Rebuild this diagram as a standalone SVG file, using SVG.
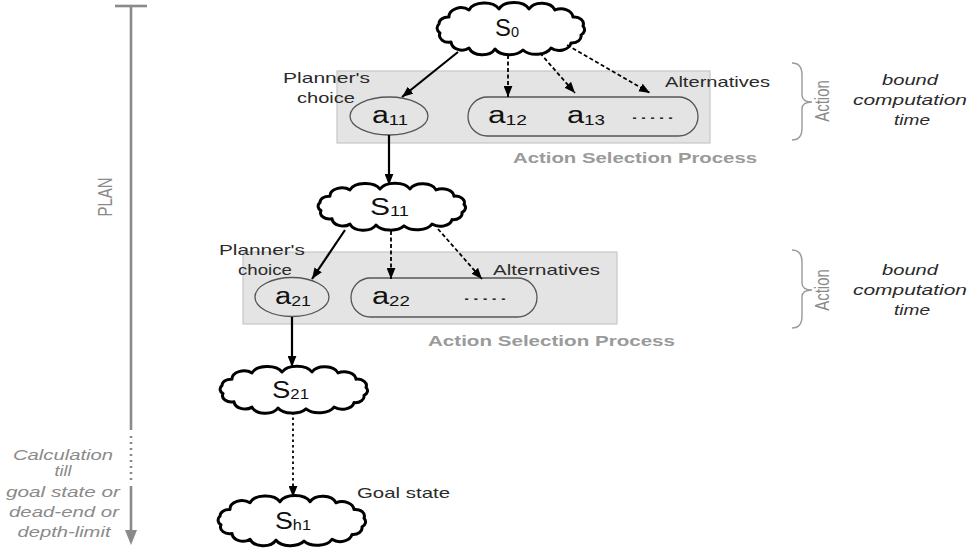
<svg xmlns="http://www.w3.org/2000/svg" width="970" height="548" viewBox="0 0 970 548">
  <style>
    text { font-family: "Liberation Sans", Arial, sans-serif; }
    .lbl { font-size: 15px; fill: #2a2a2a; }
    .proc { font-size: 15px; font-weight: bold; fill: #9a9a9a; }
    .note { font-size: 15px; font-style: italic; fill: #2a2a2a; }
    .side { font-size: 14px; font-style: italic; fill: #8a8a8a; }
    .axis { font-size: 15px; fill: #8a8a8a; }
    .state { font-size: 23px; fill: #111; }
    .act { font-size: 23px; fill: #111; }
    .sub { font-size: 14px; }
    .box { fill: #e4e4e4; stroke: #c6c6c6; stroke-width: 1.2; }
    .choice { fill: none; stroke: #555; stroke-width: 1.3; }
    .cloud { fill: #fff; stroke: #000; stroke-width: 3; stroke-linejoin: round; }
    .solid { stroke: #000; stroke-width: 2.2; fill: none; }
    .dash { stroke: #000; stroke-width: 1.8; fill: none; stroke-dasharray: 4 2.5; }
    .dot { stroke: #000; stroke-width: 1.8; fill: none; stroke-dasharray: 2.5 3; }
    .brace { stroke: #9a9a9a; stroke-width: 1.4; fill: none; }
    .timeline { stroke: #8a8a8a; stroke-width: 2.6; fill: none; }
  </style>
  <defs>
    <marker id="arrow" viewBox="0 0 10 8" refX="10" refY="4" markerWidth="11" markerHeight="9" markerUnits="userSpaceOnUse" orient="auto">
      <path d="M0,0 L10,4 L0,8 Z" fill="#000"/>
    </marker>
    <!-- cloud outline, centred on the origin, about 150 x 50 -->
    <path id="cloud" class="cloud" vector-effect="non-scaling-stroke"
      d="M -62,-12 A 12 9 0 0 1 -42,-19 A 16 10 0 0 1 -12,-20 A 16 10 0 0 1 18,-20 A 14 10 0 0 1 44,-19 A 12 9 0 0 1 62,-12
         A 9 7 0 0 1 72,-3 A 7 6 0 0 1 70,6 A 9 7 0 0 1 60,14
         A 12 9 0 0 1 40,19 A 16 10 0 0 1 12,21 A 16 10 0 0 1 -16,20 A 14 10 0 0 1 -42,19 A 11 9 0 0 1 -60,13
         A 9 7 0 0 1 -71,4 A 7 6 0 0 1 -72,-5 A 9 7 0 0 1 -62,-12 Z"/>
  </defs>

  <rect width="970" height="548" fill="#fff"/>

  <!-- plan timeline on the left -->
  <g id="plan-axis">
    <line class="timeline" x1="115" y1="6" x2="147" y2="6"/>
    <line class="timeline" x1="131" y1="6" x2="131" y2="430"/>
    <line class="timeline" x1="131" y1="436" x2="131" y2="480" stroke-dasharray="2 4"/>
    <line class="timeline" x1="131" y1="486" x2="131" y2="532"/>
    <path d="M125,530 L137,530 L131,545 Z" fill="#8a8a8a"/>
    <text class="axis" text-anchor="middle" transform="translate(112,197) scale(1.4,1) rotate(-90)">PLAN</text>
    <text class="side" x="63" y="460" text-anchor="middle" textLength="100" lengthAdjust="spacingAndGlyphs">Calculation</text>
    <text class="side" x="63" y="476" text-anchor="middle" textLength="17" lengthAdjust="spacingAndGlyphs">till</text>
    <text class="side" x="63" y="497" text-anchor="middle" textLength="114" lengthAdjust="spacingAndGlyphs">goal state or</text>
    <text class="side" x="64" y="517" text-anchor="middle" textLength="110" lengthAdjust="spacingAndGlyphs">dead-end or</text>
    <text class="side" x="64" y="537" text-anchor="middle" textLength="93" lengthAdjust="spacingAndGlyphs">depth-limit</text>
  </g>

  <!-- first action selection process -->
  <g id="action-step-1">
    <rect class="box" x="337" y="71" width="373" height="72"/>
    <text class="proc" x="513" y="163" textLength="244" lengthAdjust="spacingAndGlyphs">Action Selection Process</text>
    <text class="lbl" x="283" y="83" textLength="87" lengthAdjust="spacingAndGlyphs">Planner's</text>
    <text class="lbl" x="297" y="103" textLength="58" lengthAdjust="spacingAndGlyphs">choice</text>
    <text class="lbl" x="665" y="87" textLength="105" lengthAdjust="spacingAndGlyphs">Alternatives</text>
  </g>
  <g id="a11">
    <ellipse class="choice" cx="389" cy="116" rx="39" ry="19"/>
    <text class="act" x="372" y="123" textLength="36" lengthAdjust="spacingAndGlyphs">a<tspan class="sub" dy="2">11</tspan></text>
  </g>
  <g id="alternatives-1">
    <rect class="choice" x="468" y="97" width="230" height="39" rx="19.5"/>
    <text class="act" x="488" y="123" textLength="39" lengthAdjust="spacingAndGlyphs">a<tspan class="sub" dy="2">12</tspan></text>
    <text class="act" x="567" y="123" textLength="38" lengthAdjust="spacingAndGlyphs">a<tspan class="sub" dy="2">13</tspan></text>
    <text class="lbl" x="630" y="119" textLength="45" lengthAdjust="spacingAndGlyphs">.....</text>
  </g>

  <!-- second action selection process -->
  <g id="action-step-2">
    <rect class="box" x="243" y="252" width="374" height="72"/>
    <text class="proc" x="428" y="346" textLength="247" lengthAdjust="spacingAndGlyphs">Action Selection Process</text>
    <text class="lbl" x="219" y="255" textLength="86" lengthAdjust="spacingAndGlyphs">Planner's</text>
    <text class="lbl" x="238" y="275" textLength="54" lengthAdjust="spacingAndGlyphs">choice</text>
    <text class="lbl" x="493" y="275" textLength="107" lengthAdjust="spacingAndGlyphs">Alternatives</text>
  </g>
  <g id="a21">
    <ellipse class="choice" cx="292" cy="297" rx="37" ry="19.5"/>
    <text class="act" x="275" y="304" textLength="36" lengthAdjust="spacingAndGlyphs">a<tspan class="sub" dy="2">21</tspan></text>
  </g>
  <g id="alternatives-2">
    <rect class="choice" x="351" y="278" width="186" height="39" rx="19.5"/>
    <text class="act" x="372" y="304" textLength="38" lengthAdjust="spacingAndGlyphs">a<tspan class="sub" dy="2">22</tspan></text>
    <text class="lbl" x="462" y="300" textLength="46" lengthAdjust="spacingAndGlyphs">.....</text>
  </g>

  <!-- states -->
  <g id="S0">
    <use href="#cloud" transform="translate(511,29)"/>
    <text class="state" x="495" y="36" textLength="24" lengthAdjust="spacingAndGlyphs">S<tspan class="sub" font-size="13" dy="1">0</tspan></text>
  </g>
  <g id="S11">
    <use href="#cloud" transform="translate(392,207) scale(1,0.9)"/>
    <text class="state" x="370" y="215" textLength="39" lengthAdjust="spacingAndGlyphs">S<tspan class="sub" dy="1">11</tspan></text>
  </g>
  <g id="S21">
    <use href="#cloud" transform="translate(294,390) scale(1,0.9)"/>
    <text class="state" x="272" y="398" textLength="37" lengthAdjust="spacingAndGlyphs">S<tspan class="sub" dy="1">21</tspan></text>
  </g>
  <g id="Sh1">
    <use href="#cloud" transform="translate(292,521) scale(1,0.96)"/>
    <text class="state" x="275" y="529" textLength="36" lengthAdjust="spacingAndGlyphs">S<tspan class="sub" dy="1">h1</tspan></text>
    <text class="lbl" x="357" y="498" textLength="93" lengthAdjust="spacingAndGlyphs">Goal state</text>
  </g>

  <!-- computation-time annotations on the right -->
  <g id="bound-1">
    <path class="brace" d="M792,63 Q802,63 802,75 L802,95 Q802,102 812,102 Q802,102 802,109 L802,128 Q802,140 792,140"/>
    <text class="axis" text-anchor="middle" transform="translate(829,101) scale(1.35,1) rotate(-90)">Action</text>
    <text class="note" x="910" y="85" text-anchor="middle" textLength="56" lengthAdjust="spacingAndGlyphs">bound</text>
    <text class="note" x="910" y="105" text-anchor="middle" textLength="114" lengthAdjust="spacingAndGlyphs">computation</text>
    <text class="note" x="912" y="125" text-anchor="middle" textLength="36" lengthAdjust="spacingAndGlyphs">time</text>
  </g>
  <g id="bound-2">
    <path class="brace" d="M792,250 Q802,250 802,262 L802,283 Q802,290 812,290 Q802,290 802,297 L802,316 Q802,328 792,328"/>
    <text class="axis" text-anchor="middle" transform="translate(829,290) scale(1.35,1) rotate(-90)">Action</text>
    <text class="note" x="910" y="275" text-anchor="middle" textLength="56" lengthAdjust="spacingAndGlyphs">bound</text>
    <text class="note" x="910" y="295" text-anchor="middle" textLength="114" lengthAdjust="spacingAndGlyphs">computation</text>
    <text class="note" x="912" y="315" text-anchor="middle" textLength="36" lengthAdjust="spacingAndGlyphs">time</text>
  </g>

  <!-- connectors -->
  <g id="connectors">
    <line class="solid" x1="458" y1="52" x2="402" y2="97" marker-end="url(#arrow)"/>
    <line class="dash" x1="508" y1="55" x2="508" y2="97" marker-end="url(#arrow)"/>
    <line class="dash" x1="540" y1="53" x2="575" y2="93" marker-end="url(#arrow)"/>
    <line class="dash" x1="567" y1="45" x2="650" y2="93" marker-end="url(#arrow)"/>
    <line class="solid" x1="389" y1="135" x2="389" y2="185" marker-end="url(#arrow)"/>
    <line class="solid" x1="345" y1="230" x2="312" y2="279" marker-end="url(#arrow)"/>
    <line class="dash" x1="391" y1="231" x2="391" y2="279" marker-end="url(#arrow)"/>
    <line class="dash" x1="438" y1="229" x2="482" y2="279" marker-end="url(#arrow)"/>
    <line class="solid" x1="292" y1="317" x2="292" y2="367" marker-end="url(#arrow)"/>
    <line class="dot" x1="293" y1="412" x2="293" y2="497" marker-end="url(#arrow)"/>
  </g>
</svg>
